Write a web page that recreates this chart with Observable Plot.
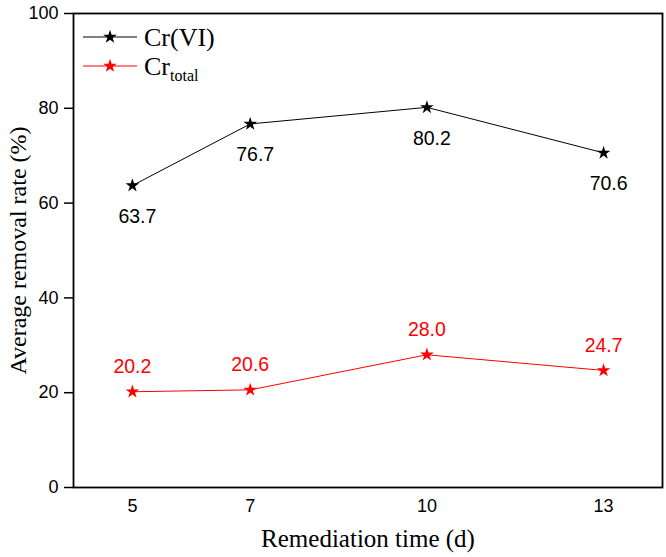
<!DOCTYPE html>
<html>
<head>
<meta charset="utf-8">
<script src="https://cdn.jsdelivr.net/npm/d3@7"></script>
<script src="https://cdn.jsdelivr.net/npm/@observablehq/plot@0.6"></script>
<style>
  body { margin: 0; background: #fff; }
  #chart svg { display: block; }
</style>
</head>
<body>
<div id="chart"></div>
<script>
const days = [5, 7, 10, 13];
const crVI = [63.7, 76.7, 80.2, 70.6];
const crTotal = [20.2, 20.6, 28.0, 24.7];
const xTicks = [5, 7, 10, 13];
const yTicks = [0, 20, 40, 60, 80, 100];
const xLabel = "Remediation time (d)";
const yLabel = "Average removal rate (%)";

const vi = days.map((d, i) => ({day: d, value: crVI[i]}));
const tot = days.map((d, i) => ({day: d, value: crTotal[i]}));

const serif = "'Liberation Serif', 'Times New Roman', serif";
const sans = "'Liberation Sans', Arial, sans-serif";

const chart = Plot.plot({
  width: 666,
  height: 557,
  marginLeft: 73,
  marginTop: 13,
  marginRight: 4,
  marginBottom: 70,
  style: {fontFamily: sans, fontSize: "18px", color: "#000", background: "#fff"},
  x: {domain: [4, 14], ticks: xTicks},
  y: {domain: [0, 100], ticks: yTicks},
  marks: [
    Plot.axisX({ticks: xTicks, tickSize: 0, tickPadding: 12, fontSize: 18, label: null, tickFormat: d => String(d)}),
    Plot.axisY({ticks: yTicks, tickSize: 9, tickPadding: 6, fontSize: 18, label: null, strokeWidth: 1.5, tickFormat: d => String(d)}),
    Plot.frame({stroke: "#000", strokeWidth: 1.8}),
    Plot.line(vi, {x: "day", y: "value", stroke: "#000", strokeWidth: 1}),
    Plot.dot(vi, {x: "day", y: "value", symbol: "star", r: 4.3, fill: "#000", stroke: "none"}),
    Plot.text(vi, {x: "day", y: "value", text: d => d.value.toFixed(1), dy: 31, dx: 5, fill: "#000", fontSize: 19.5}),
    Plot.line(tot, {x: "day", y: "value", stroke: "#ff0000", strokeWidth: 1}),
    Plot.dot(tot, {x: "day", y: "value", symbol: "star", r: 4.3, fill: "#ff0000", stroke: "none"}),
    Plot.text(tot, {x: "day", y: "value", text: d => d.value.toFixed(1), dy: -25, fill: "#ff0000", fontSize: 19.5}),
    Plot.text([xLabel], {frameAnchor: "bottom", textAnchor: "middle", dy: 59, text: d => d, fontFamily: serif, fontSize: 25, fill: "#000"}),
    Plot.text([yLabel], {frameAnchor: "left", textAnchor: "middle", lineAnchor: "middle", dx: -55, rotate: -90, text: d => d, fontFamily: serif, fontSize: 24, fill: "#000"})
  ]
});

// Legend (inside the frame, top-left)
const svg = d3.select(chart);
const legendItems = [
  {name: "Cr", sub: "(VI)", isSub: false, color: "#000"},
  {name: "Cr", sub: "total", isSub: true, color: "#ff0000"}
];
const lg = svg.append("g").attr("transform", "translate(83,37)");
const star = d3.symbol(d3.symbolStar, 58)();
legendItems.forEach((it, i) => {
  const g = lg.append("g").attr("transform", `translate(0,${i * 29})`);
  g.append("line").attr("x1", 0).attr("x2", 54).attr("y1", 0).attr("y2", 0)
    .attr("stroke", it.color).attr("stroke-width", 1);
  g.append("path").attr("d", star).attr("transform", "translate(27,0)").attr("fill", it.color);
  const t = g.append("text").attr("x", 61).attr("y", 9).attr("text-anchor", "start")
    .attr("font-family", serif).attr("font-size", 26).attr("fill", "#000");
  t.append("tspan").text(it.name);
  if (it.isSub) {
    t.append("tspan").attr("font-size", 16).attr("dy", 6).text(it.sub);
  } else {
    t.append("tspan").text(it.sub);
  }
});

document.getElementById("chart").appendChild(chart);
</script>
</body>
</html>
